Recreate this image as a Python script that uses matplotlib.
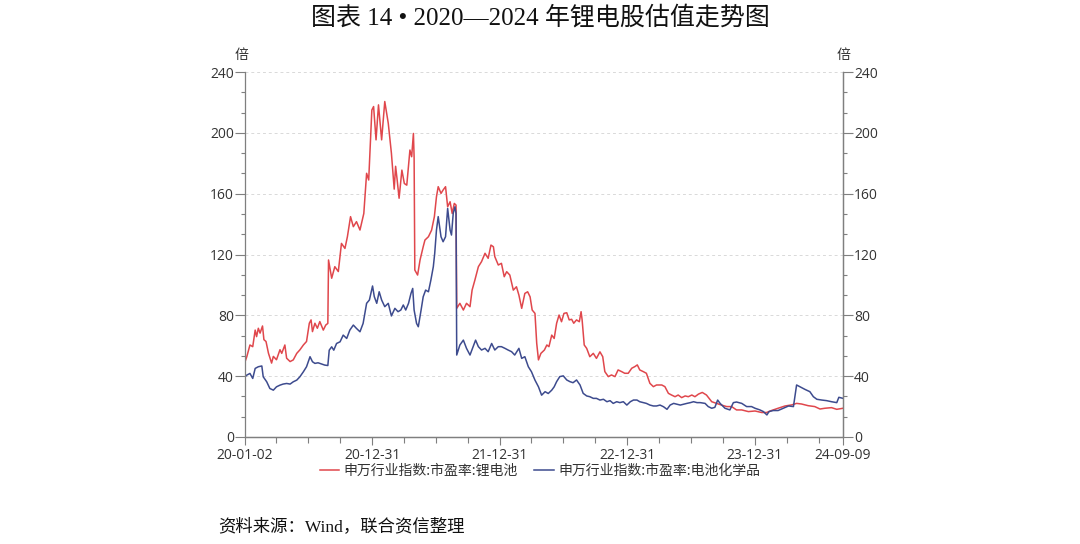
import numpy as np
import pandas as pd
import matplotlib
matplotlib.use("Agg")
import matplotlib.pyplot as plt
from matplotlib.ticker import MultipleLocator

plt.rcParams["font.family"] = ["Noto Sans CJK SC", "DejaVu Sans"]

RED = "#e0474c"
BLUE = "#3d4b8e"
AXIS_CLR = "#7f7f7f"
TEXT_CLR = "#333333"
SERIF = ["Liberation Serif", "Noto Sans CJK SC"]
TICK_FONT = "Open Sans"

# 申万行业指数:市盈率:锂电池
red_dates = [
    "2020-01-02", "2020-01-07", "2020-01-16", "2020-01-24", "2020-01-31", "2020-02-04",
    "2020-02-09", "2020-02-14", "2020-02-21", "2020-02-25", "2020-03-02", "2020-03-09",
    "2020-03-18", "2020-03-23", "2020-04-01", "2020-04-11", "2020-04-16", "2020-04-25",
    "2020-04-30", "2020-05-10", "2020-05-19", "2020-05-29", "2020-06-07", "2020-06-17",
    "2020-06-26", "2020-07-04", "2020-07-09", "2020-07-13", "2020-07-20", "2020-07-27",
    "2020-08-03", "2020-08-13", "2020-08-20", "2020-08-26", "2020-08-28", "2020-09-06",
    "2020-09-15", "2020-09-25", "2020-10-04", "2020-10-14", "2020-10-21", "2020-10-30",
    "2020-11-07", "2020-11-16", "2020-11-26", "2020-12-07", "2020-12-15", "2020-12-21",
    "2020-12-30", "2021-01-04", "2021-01-11", "2021-01-18", "2021-01-27", "2021-02-05",
    "2021-02-15", "2021-02-24", "2021-03-04", "2021-03-08", "2021-03-12", "2021-03-18",
    "2021-03-26", "2021-04-02", "2021-04-09", "2021-04-14", "2021-04-18", "2021-04-23",
    "2021-04-28", "2021-04-30", "2021-05-02", "2021-05-10", "2021-05-17", "2021-05-26",
    "2021-05-31", "2021-06-10", "2021-06-19", "2021-06-27", "2021-07-03", "2021-07-08",
    "2021-07-16", "2021-07-22", "2021-07-29", "2021-08-04", "2021-08-11", "2021-08-17",
    "2021-08-23", "2021-08-28", "2021-08-30", "2021-09-08", "2021-09-18", "2021-09-27",
    "2021-10-07", "2021-10-13", "2021-10-21", "2021-10-31", "2021-11-09", "2021-11-19",
    "2021-11-28", "2021-12-06", "2021-12-13", "2021-12-17", "2021-12-27", "2022-01-05",
    "2022-01-13", "2022-01-20", "2022-01-29", "2022-02-08", "2022-02-17", "2022-02-24",
    "2022-03-04", "2022-03-13", "2022-03-21", "2022-03-28", "2022-04-03", "2022-04-11",
    "2022-04-16", "2022-04-21", "2022-04-28", "2022-05-08", "2022-05-15", "2022-05-21",
    "2022-05-29", "2022-06-05", "2022-06-12", "2022-06-19", "2022-06-26", "2022-07-03",
    "2022-07-11", "2022-07-18", "2022-07-25", "2022-07-31", "2022-08-08", "2022-08-16",
    "2022-08-21", "2022-08-24", "2022-08-30", "2022-09-06", "2022-09-15", "2022-09-25",
    "2022-10-04", "2022-10-14", "2022-10-22", "2022-10-28", "2022-11-07", "2022-11-16",
    "2022-11-26", "2022-12-05", "2022-12-15", "2022-12-24", "2023-01-03", "2023-01-13",
    "2023-01-22", "2023-01-29", "2023-02-05", "2023-02-15", "2023-02-24", "2023-03-06",
    "2023-03-16", "2023-03-25", "2023-04-09", "2023-04-18", "2023-04-28", "2023-05-07",
    "2023-05-17", "2023-05-26", "2023-06-05", "2023-06-15", "2023-06-24", "2023-07-04",
    "2023-07-13", "2023-07-23", "2023-08-03", "2023-08-15", "2023-08-30", "2023-09-13",
    "2023-09-27", "2023-10-12", "2023-10-26", "2023-11-09", "2023-11-24", "2023-12-13",
    "2024-01-01", "2024-01-20", "2024-02-03", "2024-02-17", "2024-03-07", "2024-03-27",
    "2024-04-15", "2024-04-29", "2024-05-13", "2024-06-01", "2024-06-20", "2024-07-05",
    "2024-07-19", "2024-08-07", "2024-08-22", "2024-09-09",
]
red_pe = [
    49.5, 52.8, 60.5, 59.4, 70.3, 66.0,
    71.5, 68.3, 73.0, 64.0, 62.8, 55.1,
    48.6, 53.0, 50.8, 57.4, 55.0, 60.5,
    51.8, 49.6, 50.7, 55.0, 57.3, 60.5,
    62.8, 74.8, 77.0, 69.3, 74.8, 71.5,
    75.9, 70.3, 73.6, 74.7, 116.4, 104.4,
    112.0, 108.8, 127.3, 124.0, 131.7, 144.9,
    138.3, 141.6, 136.1, 147.0, 173.4, 169.0,
    215.0, 217.3, 195.4, 218.4, 195.4, 220.6,
    206.3, 186.6, 163.0, 178.0, 170.0, 157.0,
    175.5, 166.7, 165.6, 178.8, 188.7, 184.3,
    199.6, 184.0, 109.8, 106.5, 116.4, 125.1,
    129.5, 131.7, 136.0, 144.9, 158.0, 164.6,
    160.2, 162.4, 164.6, 151.4, 154.7, 147.0,
    153.6, 152.5, 84.6, 87.9, 83.5, 87.9,
    85.7, 96.6, 103.2, 112.0, 115.3, 120.8,
    117.5, 126.2, 125.1, 118.6, 113.1, 114.2,
    105.4, 108.7, 106.5, 96.6, 98.8, 93.3,
    84.6, 94.4, 95.5, 92.2, 83.5, 81.3,
    61.6, 50.7, 55.0, 57.2, 60.5, 59.4,
    67.0, 64.8, 74.8, 80.2, 75.8, 81.3,
    81.7, 77.0, 77.4, 74.8, 77.0, 75.8,
    82.4, 77.0, 60.5, 58.3, 52.8, 55.0,
    51.7, 56.0, 52.8, 43.0, 39.7, 40.8,
    39.7, 44.1, 43.0, 41.9, 41.9, 45.2,
    46.3, 47.4, 44.1, 43.0, 41.9, 35.3,
    33.1, 34.2, 34.2, 33.1, 28.7, 27.6,
    26.5, 27.6, 25.9, 27.0, 26.5, 27.6,
    26.5, 28.2, 29.3, 27.6, 23.2, 22.1,
    21.0, 20.0, 20.0, 17.8, 17.8, 16.7,
    17.1, 16.1, 16.1, 17.4, 18.9, 20.4,
    21.1, 22.1, 21.7, 20.6, 20.0, 18.4,
    18.9, 19.3, 18.2, 18.9,
]

# 申万行业指数:市盈率:电池化学品
blue_dates = [
    "2020-01-02", "2020-01-07", "2020-01-16", "2020-01-24", "2020-01-31", "2020-02-09",
    "2020-02-19", "2020-02-23", "2020-03-04", "2020-03-13", "2020-03-23", "2020-04-01",
    "2020-04-11", "2020-04-20", "2020-04-30", "2020-05-10", "2020-05-19", "2020-05-29",
    "2020-06-07", "2020-06-17", "2020-06-26", "2020-07-06", "2020-07-13", "2020-07-20",
    "2020-07-29", "2020-08-08", "2020-08-17", "2020-08-26", "2020-08-30", "2020-09-06",
    "2020-09-12", "2020-09-20", "2020-09-30", "2020-10-09", "2020-10-19", "2020-10-28",
    "2020-11-07", "2020-11-16", "2020-11-26", "2020-12-05", "2020-12-15", "2020-12-23",
    "2021-01-01", "2021-01-06", "2021-01-13", "2021-01-20", "2021-01-27", "2021-02-05",
    "2021-02-15", "2021-02-24", "2021-03-06", "2021-03-15", "2021-03-23", "2021-03-30",
    "2021-04-06", "2021-04-14", "2021-04-21", "2021-04-26", "2021-04-30", "2021-05-07",
    "2021-05-12", "2021-05-20", "2021-05-26", "2021-06-02", "2021-06-10", "2021-06-17",
    "2021-06-24", "2021-06-28", "2021-07-03", "2021-07-08", "2021-07-16", "2021-07-22",
    "2021-07-29", "2021-08-04", "2021-08-11", "2021-08-15", "2021-08-20", "2021-08-25",
    "2021-08-28", "2021-08-30", "2021-09-08", "2021-09-18", "2021-09-27", "2021-10-07",
    "2021-10-16", "2021-10-23", "2021-10-31", "2021-11-09", "2021-11-19", "2021-11-28",
    "2021-12-08", "2021-12-17", "2021-12-27", "2022-01-05", "2022-01-15", "2022-01-24",
    "2022-02-03", "2022-02-12", "2022-02-24", "2022-03-04", "2022-03-13", "2022-03-23",
    "2022-04-01", "2022-04-11", "2022-04-21", "2022-04-30", "2022-05-10", "2022-05-19",
    "2022-05-29", "2022-06-05", "2022-06-12", "2022-06-21", "2022-07-01", "2022-07-11",
    "2022-07-20", "2022-07-29", "2022-08-08", "2022-08-18", "2022-08-27", "2022-09-06",
    "2022-09-15", "2022-09-25", "2022-10-04", "2022-10-14", "2022-10-24", "2022-11-03",
    "2022-11-12", "2022-11-21", "2022-12-01", "2022-12-10", "2022-12-20", "2022-12-30",
    "2023-01-09", "2023-01-18", "2023-01-28", "2023-02-05", "2023-02-15", "2023-02-24",
    "2023-03-06", "2023-03-16", "2023-03-25", "2023-04-04", "2023-04-14", "2023-04-24",
    "2023-05-03", "2023-05-13", "2023-05-22", "2023-06-01", "2023-06-11", "2023-06-20",
    "2023-06-30", "2023-07-09", "2023-07-19", "2023-07-28", "2023-08-11", "2023-08-20",
    "2023-08-30", "2023-09-08", "2023-09-16", "2023-09-23", "2023-10-07", "2023-10-21",
    "2023-10-31", "2023-11-09", "2023-11-24", "2023-12-08", "2023-12-22", "2024-01-01",
    "2024-01-15", "2024-01-25", "2024-02-04", "2024-02-10", "2024-02-22", "2024-03-07",
    "2024-03-22", "2024-04-06", "2024-04-20", "2024-04-29", "2024-05-08", "2024-05-23",
    "2024-06-06", "2024-06-16", "2024-06-26", "2024-07-10", "2024-07-24", "2024-08-07",
    "2024-08-22", "2024-08-28", "2024-09-09",
]
blue_pe = [
    39.6, 40.7, 41.8, 38.5, 45.1, 46.2,
    46.7, 39.6, 36.3, 31.9, 30.8, 33.0,
    34.1, 34.8, 35.2, 34.8, 36.3, 37.4,
    39.6, 42.9, 46.2, 52.8, 49.5, 48.4,
    48.8, 48.0, 47.3, 47.0, 57.1, 59.3,
    57.1, 61.5, 62.6, 67.0, 64.8, 70.3,
    73.6, 71.4, 69.2, 74.7, 87.9, 90.1,
    99.3, 92.3, 87.9, 95.5, 90.1, 85.7,
    87.9, 79.6, 84.6, 82.4, 83.5, 86.8,
    83.5, 87.9, 94.4, 97.7, 83.5, 74.7,
    72.5, 83.5, 92.2, 96.6, 95.5, 103.2,
    112.0, 120.8, 136.1, 144.9, 131.7, 128.4,
    131.7, 150.3, 136.1, 132.8, 147.1, 151.4,
    147.0, 53.9, 60.5, 63.7, 58.3, 53.9,
    59.4, 63.7, 59.4, 57.2, 58.3, 56.1,
    61.5, 57.2, 59.4, 59.4, 58.3, 57.2,
    56.1, 53.9, 58.3, 51.7, 52.8, 46.2,
    42.9, 37.4, 33.0, 27.5, 29.8, 28.6,
    30.8, 33.0, 36.4, 39.7, 40.2, 37.5,
    36.4, 35.7, 37.5, 34.2, 28.7, 27.0,
    26.5, 25.4, 25.4, 24.3, 24.8, 23.2,
    23.9, 22.1, 23.2, 22.6, 23.2, 21.0,
    23.2, 24.3, 24.3, 23.2, 22.6, 22.1,
    21.0, 20.4, 20.4, 21.0, 19.9, 18.2,
    21.0, 22.1, 21.6, 21.0, 21.6, 22.1,
    22.6, 23.2, 22.6, 22.6, 22.1, 20.0,
    18.9, 19.5, 24.3, 22.1, 18.9, 17.8,
    22.6, 23.0, 22.1, 20.0, 20.0, 18.9,
    17.8, 16.7, 14.5, 16.7, 17.4, 17.4,
    18.9, 20.4, 20.0, 34.2, 33.1, 31.3,
    29.8, 26.5, 24.8, 24.3, 23.9, 23.2,
    22.6, 26.1, 25.4,
]

series_names = ["申万行业指数:市盈率:锂电池", "申万行业指数:市盈率:电池化学品"]
xtick_dates = ["2020-01-02", "2020-12-31", "2021-12-31", "2022-12-31", "2023-12-31", "2024-09-09"]
xtick_labels = ["20-01-02", "20-12-31", "21-12-31", "22-12-31", "23-12-31", "24-09-09"]
minor_dates = ["2020-04-01", "2020-07-01", "2020-10-01", "2021-04-01", "2021-07-01", "2021-10-01",
               "2022-04-01", "2022-07-01", "2022-10-01", "2023-04-01", "2023-07-01", "2023-10-01",
               "2024-04-01", "2024-07-01"]


def style_axis(a):
    a.set_ylim(0, 240)
    a.yaxis.set_major_locator(MultipleLocator(40))
    a.yaxis.set_minor_locator(MultipleLocator(40 / 3))
    a.tick_params(axis="both", which="both", colors=AXIS_CLR, labelcolor=TEXT_CLR,
                  labelsize=10, width=0.8, direction="out")
    a.tick_params(axis="y", which="major", length=7, pad=1)
    a.tick_params(axis="y", which="minor", length=3)
    a.tick_params(axis="x", which="major", length=6, pad=2)
    a.tick_params(axis="x", which="minor", length=4)
    for lab in a.get_xticklabels() + a.get_yticklabels():
        lab.set_family(TICK_FONT)
    a.spines["top"].set_visible(False)
    for s in ("left", "right", "bottom"):
        a.spines[s].set_color(AXIS_CLR)
        a.spines[s].set_linewidth(0.9)


def main():
    fig = plt.figure(figsize=(10.8, 5.44), dpi=100)
    ax = fig.add_axes([0.2269, 0.1967, 0.5537, 0.6709])

    l1, = ax.plot(pd.to_datetime(red_dates), red_pe, color=RED, lw=1.1)
    l2, = ax.plot(pd.to_datetime(blue_dates), blue_pe, color=BLUE, lw=1.1)
    ax.set_xlim(pd.Timestamp("2020-01-02"), pd.Timestamp("2024-09-09"))
    ax.set_xticks(pd.to_datetime(xtick_dates))
    ax.set_xticklabels(xtick_labels)
    ax.set_xticks(pd.to_datetime(minor_dates), minor=True)
    ax.grid(axis="y", which="major", color="#d9d9d9", ls=(0, (3, 3)), lw=0.7)
    style_axis(ax)

    ax2 = ax.twinx()
    style_axis(ax2)
    ax2.spines["left"].set_visible(False)

    fig.text(0.5, 0.968, "图表 14 • 2020—2024 年锂电股估值走势图", ha="center", va="center",
             fontsize=18, family=SERIF, color="#111111")
    fig.text(0.224, 0.899, "倍", ha="center", va="center", fontsize=10, color=TEXT_CLR)
    fig.text(0.781, 0.899, "倍", ha="center", va="center", fontsize=10, color=TEXT_CLR)
    fig.legend([l1, l2], series_names, loc="center", bbox_to_anchor=(0.5, 0.134), ncol=2,
               frameon=False, fontsize=10, handlelength=1.4, handletextpad=0.3,
               columnspacing=1.2, labelcolor=TEXT_CLR)
    fig.text(0.202, 0.031, "资料来源：Wind，联合资信整理", ha="left", va="center",
             fontsize=12.5, family=SERIF, color="#111111")

    fig.savefig("out.png", dpi=100, facecolor="white")


if __name__ == "__main__":
    main()
